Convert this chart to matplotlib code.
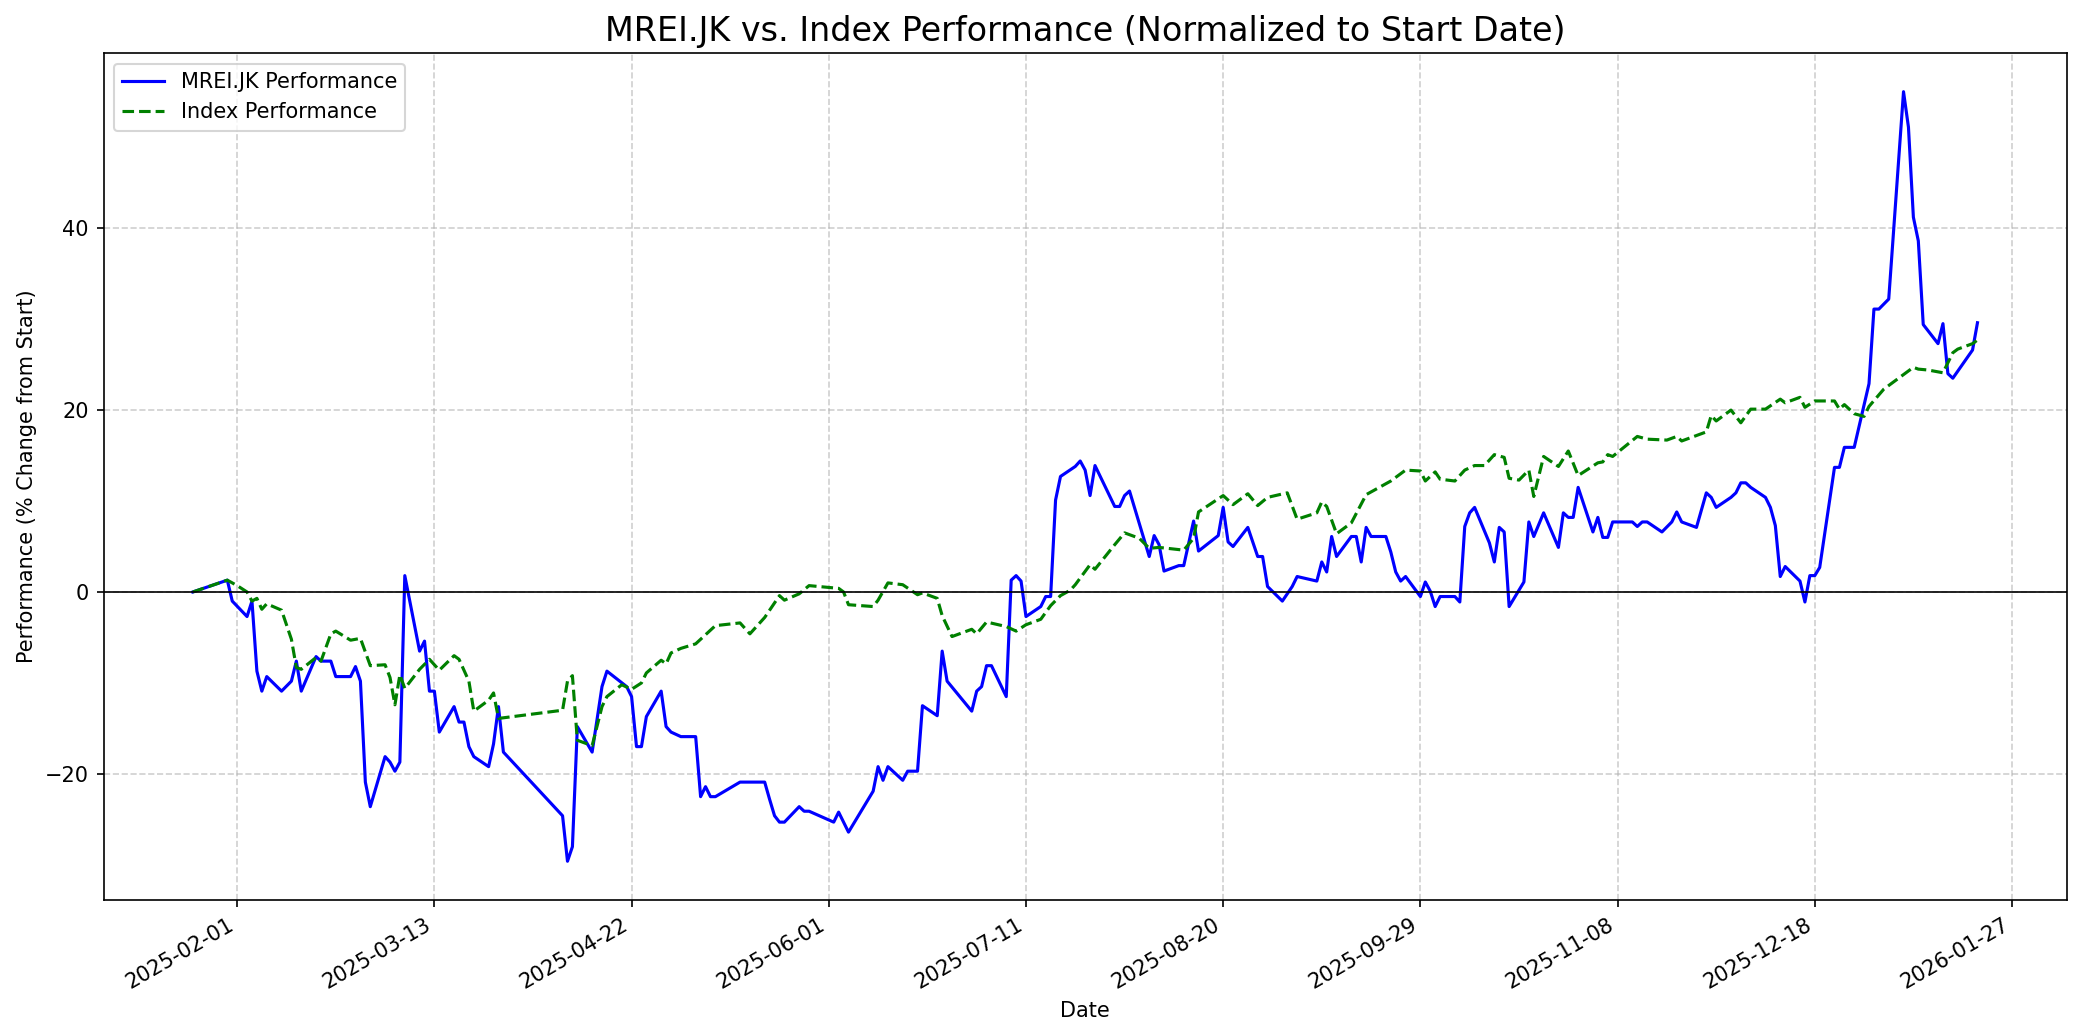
import pandas as pd
import matplotlib.pyplot as plt
import matplotlib.dates as mdates

# MREI.JK performance, % change from start
stock_dates = [
    "2025-01-23", "2025-01-30", "2025-01-31", "2025-02-03", "2025-02-04", "2025-02-05",
    "2025-02-06", "2025-02-07", "2025-02-10", "2025-02-12", "2025-02-13", "2025-02-14",
    "2025-02-17", "2025-02-18", "2025-02-20", "2025-02-21", "2025-02-24", "2025-02-25",
    "2025-02-26", "2025-02-27", "2025-02-28", "2025-03-03", "2025-03-04", "2025-03-05",
    "2025-03-06", "2025-03-07", "2025-03-10", "2025-03-11", "2025-03-12", "2025-03-13",
    "2025-03-14", "2025-03-17", "2025-03-18", "2025-03-19", "2025-03-20", "2025-03-21",
    "2025-03-24", "2025-03-25", "2025-03-26", "2025-03-27", "2025-04-08", "2025-04-09",
    "2025-04-10", "2025-04-11", "2025-04-14", "2025-04-16", "2025-04-17", "2025-04-21",
    "2025-04-22", "2025-04-23", "2025-04-24", "2025-04-25", "2025-04-28", "2025-04-29",
    "2025-04-30", "2025-05-02", "2025-05-05", "2025-05-06", "2025-05-07", "2025-05-08",
    "2025-05-09", "2025-05-14", "2025-05-19", "2025-05-20", "2025-05-21", "2025-05-22",
    "2025-05-23", "2025-05-26", "2025-05-27", "2025-05-28", "2025-06-02", "2025-06-03",
    "2025-06-05", "2025-06-10", "2025-06-11", "2025-06-12", "2025-06-13", "2025-06-16",
    "2025-06-17", "2025-06-19", "2025-06-20", "2025-06-23", "2025-06-24", "2025-06-25",
    "2025-06-30", "2025-07-01", "2025-07-02", "2025-07-03", "2025-07-04", "2025-07-07",
    "2025-07-08", "2025-07-09", "2025-07-10", "2025-07-11", "2025-07-14", "2025-07-15",
    "2025-07-16", "2025-07-17", "2025-07-18", "2025-07-21", "2025-07-22", "2025-07-23",
    "2025-07-24", "2025-07-25", "2025-07-29", "2025-07-30", "2025-07-31", "2025-08-01",
    "2025-08-05", "2025-08-06", "2025-08-07", "2025-08-08", "2025-08-11", "2025-08-12",
    "2025-08-14", "2025-08-15", "2025-08-19", "2025-08-20", "2025-08-21", "2025-08-22",
    "2025-08-25", "2025-08-27", "2025-08-28", "2025-08-29", "2025-09-01", "2025-09-03",
    "2025-09-04", "2025-09-08", "2025-09-09", "2025-09-10", "2025-09-11", "2025-09-12",
    "2025-09-15", "2025-09-16", "2025-09-17", "2025-09-18", "2025-09-19", "2025-09-22",
    "2025-09-23", "2025-09-24", "2025-09-25", "2025-09-26", "2025-09-29", "2025-09-30",
    "2025-10-01", "2025-10-02", "2025-10-03", "2025-10-06", "2025-10-07", "2025-10-08",
    "2025-10-09", "2025-10-10", "2025-10-13", "2025-10-14", "2025-10-15", "2025-10-16",
    "2025-10-17", "2025-10-20", "2025-10-21", "2025-10-22", "2025-10-24", "2025-10-27",
    "2025-10-28", "2025-10-29", "2025-10-30", "2025-10-31", "2025-11-03", "2025-11-04",
    "2025-11-05", "2025-11-06", "2025-11-07", "2025-11-11", "2025-11-12", "2025-11-13",
    "2025-11-14", "2025-11-17", "2025-11-19", "2025-11-20", "2025-11-21", "2025-11-24",
    "2025-11-26", "2025-11-27", "2025-11-28", "2025-12-01", "2025-12-02", "2025-12-03",
    "2025-12-04", "2025-12-05", "2025-12-08", "2025-12-09", "2025-12-10", "2025-12-11",
    "2025-12-12", "2025-12-15", "2025-12-16", "2025-12-17", "2025-12-18", "2025-12-19",
    "2025-12-22", "2025-12-23", "2025-12-24", "2025-12-26", "2025-12-29", "2025-12-30",
    "2025-12-31", "2026-01-02", "2026-01-05", "2026-01-06", "2026-01-07", "2026-01-08",
    "2026-01-09", "2026-01-12", "2026-01-13", "2026-01-14", "2026-01-15", "2026-01-19",
    "2026-01-20",
]
stock_perf = [
    0.0, 1.3, -1.0, -2.7, -1.0, -8.7,
    -10.9, -9.3, -10.9, -9.8, -7.6, -10.9,
    -7.1, -7.6, -7.6, -9.3, -9.3, -8.2,
    -9.8, -20.9, -23.6, -18.1, -18.7, -19.7,
    -18.7, 1.8, -6.5, -5.4, -10.9, -10.9,
    -15.4, -12.6, -14.3, -14.3, -17.0, -18.1,
    -19.2, -16.7, -12.6, -17.6, -24.6, -29.6,
    -28.0, -14.8, -17.6, -10.4, -8.7, -10.4,
    -11.5, -17.0, -17.0, -13.7, -10.9, -14.8,
    -15.4, -15.9, -15.9, -22.5, -21.4, -22.5,
    -22.5, -20.9, -20.9, -22.8, -24.6, -25.3,
    -25.3, -23.6, -24.1, -24.1, -25.3, -24.2,
    -26.4, -21.9, -19.2, -20.7, -19.2, -20.7,
    -19.7, -19.7, -12.5, -13.6, -6.5, -9.8,
    -13.1, -10.9, -10.4, -8.1, -8.1, -11.5,
    1.3, 1.8, 1.2, -2.7, -1.6, -0.5,
    -0.5, 10.1, 12.7, 13.8, 14.4, 13.4,
    10.6, 13.9, 9.4, 9.4, 10.6, 11.1,
    3.9, 6.2, 5.2, 2.3, 2.9, 2.9,
    7.8, 4.5, 6.2, 9.3, 5.5, 5.0,
    7.1, 3.9, 3.9, 0.6, -1.0, 0.6,
    1.7, 1.2, 3.3, 2.2, 6.1, 3.9,
    6.1, 6.1, 3.3, 7.1, 6.1, 6.1,
    4.4, 2.2, 1.2, 1.7, -0.5, 1.1,
    0.1, -1.6, -0.5, -0.5, -1.1, 7.2,
    8.7, 9.3, 5.4, 3.3, 7.1, 6.6,
    -1.6, 1.1, 7.7, 6.1, 8.7, 4.9,
    8.7, 8.2, 8.2, 11.5, 6.6, 8.2,
    6.0, 6.0, 7.7, 7.7, 7.2, 7.7,
    7.7, 6.6, 7.7, 8.8, 7.7, 7.1,
    10.9, 10.4, 9.3, 10.4, 10.9, 12.0,
    12.0, 11.5, 10.4, 9.3, 7.3, 1.7,
    2.8, 1.2, -1.1, 1.8, 1.8, 2.7,
    13.7, 13.7, 15.9, 15.9, 22.9, 31.1,
    31.1, 32.2, 55.0, 51.1, 41.2, 38.6,
    29.4, 27.3, 29.5, 24.0, 23.5, 26.6,
    29.6,
]

# Index performance, % change from start
index_dates = [
    "2025-01-23", "2025-01-30", "2025-02-01", "2025-02-03", "2025-02-04", "2025-02-05",
    "2025-02-06", "2025-02-07", "2025-02-10", "2025-02-12", "2025-02-13", "2025-02-14",
    "2025-02-17", "2025-02-18", "2025-02-20", "2025-02-21", "2025-02-24", "2025-02-26",
    "2025-02-28", "2025-03-03", "2025-03-04", "2025-03-05", "2025-03-06", "2025-03-07",
    "2025-03-10", "2025-03-12", "2025-03-14", "2025-03-17", "2025-03-18", "2025-03-20",
    "2025-03-21", "2025-03-24", "2025-03-25", "2025-03-26", "2025-04-08", "2025-04-09",
    "2025-04-10", "2025-04-11", "2025-04-14", "2025-04-16", "2025-04-17", "2025-04-20",
    "2025-04-22", "2025-04-24", "2025-04-25", "2025-04-28", "2025-04-29", "2025-04-30",
    "2025-05-02", "2025-05-05", "2025-05-09", "2025-05-14", "2025-05-16", "2025-05-19",
    "2025-05-22", "2025-05-23", "2025-05-26", "2025-05-28", "2025-06-03", "2025-06-04",
    "2025-06-05", "2025-06-10", "2025-06-11", "2025-06-13", "2025-06-16", "2025-06-19",
    "2025-06-20", "2025-06-23", "2025-06-24", "2025-06-26", "2025-06-30", "2025-07-01",
    "2025-07-03", "2025-07-07", "2025-07-09", "2025-07-11", "2025-07-14", "2025-07-16",
    "2025-07-18", "2025-07-20", "2025-07-21", "2025-07-24", "2025-07-25", "2025-07-29",
    "2025-07-31", "2025-08-03", "2025-08-05", "2025-08-07", "2025-08-12", "2025-08-14",
    "2025-08-15", "2025-08-20", "2025-08-22", "2025-08-25", "2025-08-27", "2025-08-29",
    "2025-09-02", "2025-09-04", "2025-09-08", "2025-09-09", "2025-09-10", "2025-09-12",
    "2025-09-15", "2025-09-18", "2025-09-23", "2025-09-26", "2025-09-29", "2025-09-30",
    "2025-10-02", "2025-10-03", "2025-10-06", "2025-10-08", "2025-10-10", "2025-10-12",
    "2025-10-14", "2025-10-16", "2025-10-17", "2025-10-19", "2025-10-21", "2025-10-22",
    "2025-10-24", "2025-10-27", "2025-10-29", "2025-10-31", "2025-11-04", "2025-11-05",
    "2025-11-06", "2025-11-07", "2025-11-12", "2025-11-14", "2025-11-18", "2025-11-20",
    "2025-11-21", "2025-11-26", "2025-11-27", "2025-11-28", "2025-12-01", "2025-12-03",
    "2025-12-05", "2025-12-08", "2025-12-11", "2025-12-12", "2025-12-15", "2025-12-16",
    "2025-12-18", "2025-12-22", "2025-12-23", "2025-12-24", "2025-12-26", "2025-12-28",
    "2025-12-29", "2026-01-01", "2026-01-05", "2026-01-07", "2026-01-08", "2026-01-10",
    "2026-01-13", "2026-01-15", "2026-01-16", "2026-01-19", "2026-01-20",
]
index_perf = [
    0.0, 1.3, 0.7, 0.0, -1.0, -0.7,
    -1.9, -1.3, -2.0, -5.2, -8.3, -8.5,
    -7.2, -7.6, -4.6, -4.3, -5.3, -5.1,
    -8.1, -8.0, -9.4, -12.4, -9.1, -10.6,
    -8.5, -7.4, -8.6, -7.0, -7.4, -9.8,
    -13.1, -11.9, -11.1, -13.9, -13.0, -9.8,
    -9.2, -16.3, -16.9, -12.6, -11.5, -10.2,
    -10.7, -10.0, -8.9, -7.5, -7.9, -6.7,
    -6.2, -5.7, -3.7, -3.4, -4.6, -2.8,
    -0.4, -0.9, -0.2, 0.7, 0.4, 0.0,
    -1.4, -1.6, -0.9, 1.0, 0.8, -0.3,
    -0.1, -0.7, -2.6, -4.9, -4.1, -4.6,
    -3.3, -3.8, -4.3, -3.6, -3.0, -1.5,
    -0.4, 0.2, 0.8, 3.0, 2.5, 5.2,
    6.5, 5.9, 4.8, 4.9, 4.6, 5.9,
    8.8, 10.6, 9.6, 10.8, 9.5, 10.4,
    10.9, 8.0, 8.7, 9.9, 9.4, 6.4,
    7.6, 10.7, 12.2, 13.4, 13.3, 12.2,
    13.2, 12.4, 12.2, 13.4, 13.9, 13.9,
    15.1, 14.8, 12.5, 12.3, 13.4, 10.5,
    14.9, 13.8, 15.5, 12.8, 14.2, 14.3,
    15.1, 14.9, 17.1, 16.8, 16.7, 17.1,
    16.6, 17.6, 19.4, 18.8, 20.0, 18.6,
    20.1, 20.1, 21.2, 20.8, 21.4, 20.3,
    21.0, 21.0, 20.1, 20.6, 19.6, 19.3,
    20.4, 22.3, 23.9, 24.7, 24.5, 24.4,
    24.1, 26.3, 26.7, 27.3, 27.7,
]

tick_dates = [
    "2025-02-01", "2025-03-13", "2025-04-22", "2025-06-01", "2025-07-11",
    "2025-08-20", "2025-09-29", "2025-11-08", "2025-12-18", "2026-01-27",
]

stock = pd.Series(stock_perf, index=pd.to_datetime(stock_dates))
index = pd.Series(index_perf, index=pd.to_datetime(index_dates))

fig, ax = plt.subplots(figsize=(2084 / 150, 1035 / 150), dpi=150)

ax.plot(stock.index, stock.values, color='blue', linewidth=1.5, label='MREI.JK Performance')
ax.plot(index.index, index.values, color='green', linestyle='--', linewidth=1.5, label='Index Performance')
ax.axhline(0, color='black', linewidth=0.8)

ax.set_title('MREI.JK vs. Index Performance (Normalized to Start Date)', fontsize=16)
ax.set_xlabel('Date')
ax.set_ylabel('Performance (% Change from Start)')
ax.grid(True, linestyle='--', alpha=0.6)
ax.legend(loc='upper left')

ax.set_xticks(pd.to_datetime(tick_dates))
ax.xaxis.set_major_formatter(mdates.DateFormatter('%Y-%m-%d'))
fig.autofmt_xdate()

fig.subplots_adjust(left=0.0497, right=0.9917, top=0.9486, bottom=0.1307)
fig.savefig('out.png', dpi=150)
